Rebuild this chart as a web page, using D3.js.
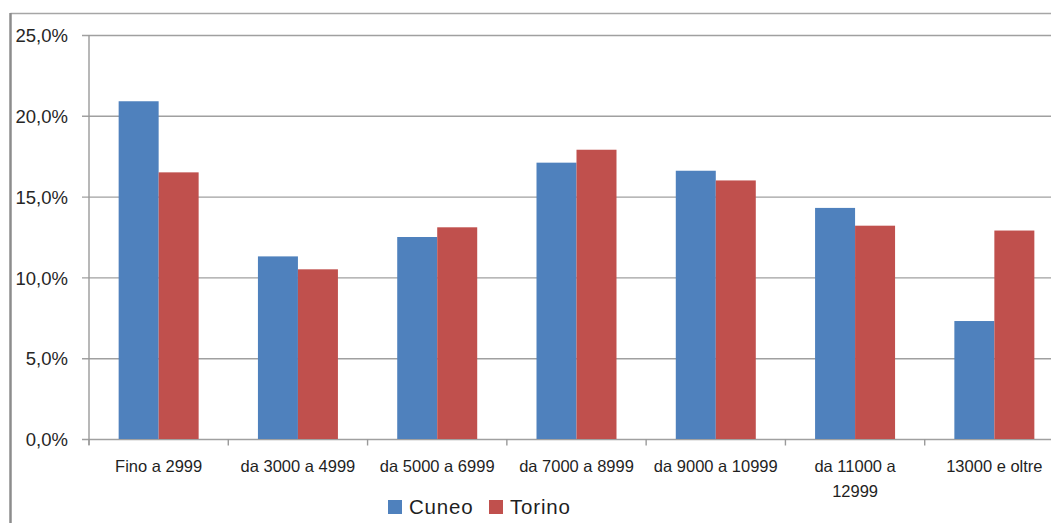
<!DOCTYPE html>
<html>
<head>
<meta charset="utf-8">
<script src="https://cdn.jsdelivr.net/npm/d3@7"></script>
<style>
  html, body { margin: 0; padding: 0; background: #fff; }
  svg { display: block; font-family: "Liberation Sans", Arial, sans-serif; }
</style>
</head>
<body>
<svg id="chart" width="1051" height="523"></svg>
<script>
// Income brackets (euro) and share of taxpayers per province
const categories = [
  "Fino a 2999",
  "da 3000 a 4999",
  "da 5000 a 6999",
  "da 7000 a 8999",
  "da 9000 a 10999",
  "da 11000 a 12999",
  "13000 e oltre"
];
const categoryLines = [
  ["Fino a 2999"],
  ["da 3000 a 4999"],
  ["da 5000 a 6999"],
  ["da 7000 a 8999"],
  ["da 9000 a 10999"],
  ["da 11000 a", "12999"],
  ["13000 e oltre"]
];
const seriesNames = ["Cuneo", "Torino"];
const cuneo  = [20.9, 11.3, 12.5, 17.1, 16.6, 14.3, 7.3];
const torino = [16.5, 10.5, 13.1, 17.9, 16.0, 13.2, 12.9];
const yTicks = [0, 5, 10, 15, 20, 25];
const colors = ["#4F81BD", "#C0504D"];

const svg = d3.select("#chart");
const W = 1051, H = 523;
const plotLeft = 89, plotTop = 35, plotBottom = 439;
const plotRight = 1064; // last category runs past the visible edge

// Outer frame (left and top edges visible)
svg.append("line").attr("x1", 10.5).attr("x2", W).attr("y1", 13.5).attr("y2", 13.5)
  .attr("stroke", "#a6a6a6").attr("stroke-width", 1.5);
svg.append("line").attr("x1", 10.5).attr("x2", 10.5).attr("y1", 13).attr("y2", H)
  .attr("stroke", "#8c8c8c").attr("stroke-width", 2.5);

const y = d3.scaleLinear().domain([0, 25]).range([plotBottom, plotTop]);
const p = 59.3 / 139.3;
const x0 = d3.scaleBand().domain(categories).range([plotLeft, plotRight])
  .paddingInner(p).paddingOuter(p / 2);
const x1 = d3.scaleBand().domain(seriesNames).range([0, x0.bandwidth()]);

const fmt = v => d3.format(".1f")(v).replace(".", ",") + "%";

// Horizontal gridlines with tick labels
const yAxis = d3.axisLeft(y).tickValues(yTicks).tickFormat(fmt)
  .tickSize(-(W - plotLeft + 20)).tickSizeOuter(0);
const gy = svg.append("g").attr("transform", `translate(${plotLeft},0)`).call(yAxis);
gy.select(".domain").remove();
gy.selectAll(".tick line").attr("stroke", "#a0a0a0").attr("stroke-width", 1.4)
  .attr("x1", -7);
gy.selectAll(".tick text").attr("x", -21).attr("dy", "0.36em")
  .attr("font-size", 18.5).attr("fill", "#262626")
  .attr("font-family", "'Liberation Sans', Arial, sans-serif");

// Vertical axis line
svg.append("line").attr("x1", plotLeft).attr("x2", plotLeft).attr("y1", plotTop).attr("y2", plotBottom + 6)
  .attr("stroke", "#9a9a9a").attr("stroke-width", 1.4);

// Category boundary ticks under the baseline
const bounds = d3.range(categories.length + 1).map(i => plotLeft + i * x0.step());
svg.append("g").selectAll("line").data(bounds).join("line")
  .attr("x1", d => d).attr("x2", d => d).attr("y1", plotBottom).attr("y2", plotBottom + 6.5)
  .attr("stroke", "#9a9a9a").attr("stroke-width", 1.4);

// Bars
const rows = categories.map((c, i) => ({ cat: c, vals: [cuneo[i], torino[i]] }));
const groups = svg.append("g").selectAll("g").data(rows).join("g")
  .attr("transform", d => `translate(${x0(d.cat)},0)`);
groups.selectAll("rect").data(d => d.vals.map((v, j) => ({ key: seriesNames[j], v, j })))
  .join("rect")
  .attr("x", d => x1(d.key))
  .attr("y", d => y(d.v))
  .attr("width", x1.bandwidth())
  .attr("height", d => plotBottom - y(d.v))
  .attr("fill", d => colors[d.j]);

// Category labels
const xl = svg.append("g").selectAll("text").data(categories).join("text")
  .attr("x", d => x0(d) + x0.bandwidth() / 2)
  .attr("y", 472)
  .attr("text-anchor", "middle")
  .attr("font-size", 16.5)
  .attr("fill", "#1f1f1f");
xl.each(function (d, i) {
  d3.select(this).selectAll("tspan").data(categoryLines[i]).join("tspan")
    .attr("x", x0(d) + x0.bandwidth() / 2)
    .attr("dy", (t, k) => k === 0 ? 0 : 25)
    .text(t => t);
});

// Legend
const legend = svg.append("g").attr("transform", "translate(388,500)");
const li = legend.selectAll("g").data(seriesNames).join("g")
  .attr("transform", (d, i) => `translate(${i * 101},0)`);
li.append("rect").attr("width", 14).attr("height", 14)
  .attr("fill", (d, i) => colors[i]);
li.append("text").attr("x", 21).attr("y", 14)
  .attr("font-size", 20.5).attr("fill", "#1f1f1f")
  .attr("letter-spacing", 0.8)
  .text(d => d);
</script>
</body>
</html>
